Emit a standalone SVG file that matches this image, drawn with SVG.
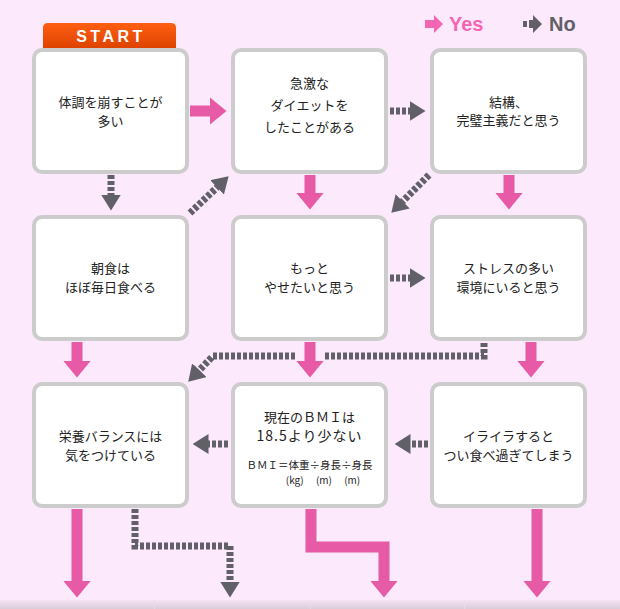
<svg xmlns="http://www.w3.org/2000/svg" width="620" height="609" viewBox="0 0 620 609">
<defs>
<linearGradient id="tabg" x1="0" y1="0" x2="0" y2="1"><stop offset="0" stop-color="#ff5f12"/><stop offset="1" stop-color="#dd4300"/></linearGradient>
<linearGradient id="bandg" x1="0" y1="0" x2="0" y2="1"><stop offset="0" stop-color="#f6e2f4"/><stop offset="1" stop-color="#d9cdd9"/></linearGradient>
<marker id="ph" viewBox="0 0 17 28" markerWidth="17" markerHeight="28" refX="0.5" refY="14" orient="auto" markerUnits="userSpaceOnUse"><path d="M0,0 L17,14 L0,28 Z" fill="#e65aa6"/></marker>
<marker id="gh" viewBox="0 0 16 20" markerWidth="16" markerHeight="20" refX="0.5" refY="10" orient="auto" markerUnits="userSpaceOnUse"><path d="M0,0 L16,10 L0,20 Z" fill="#616068"/></marker>
</defs>
<style>
.box{fill:#fff;stroke:#cccccc;stroke-width:4}
.t{font-family:"Noto Sans CJK JP","Noto Sans",sans-serif;font-size:13px;fill:#222;text-anchor:middle}
.yes{fill:none;stroke:#e65aa6;stroke-width:11;stroke-linejoin:miter;marker-end:url(#ph)}
.no{fill:none;stroke:#616068;stroke-width:7;stroke-dasharray:4 2;marker-end:url(#gh)}
.nom{fill:none;stroke:#616068;stroke-width:7;stroke-dasharray:4 2}
</style>
<rect width="620" height="609" fill="#fce9fb"/>
<rect x="0" y="600" width="620" height="9" fill="url(#bandg)"/>
<g stroke="#e8dbe8" stroke-width="1"><line x1="154.5" y1="601" x2="154.5" y2="609"/><line x1="310.5" y1="601" x2="310.5" y2="609"/><line x1="464.5" y1="601" x2="464.5" y2="609"/></g>

<g id="legend">
<path d="M425,20 H434 V15 L443,24 L434,33 V28 H425 Z" fill="#f466b4"/>
<text x="449" y="31" font-family="Liberation Sans,Arial,sans-serif" font-weight="bold" font-size="20" fill="#f466b4">Yes</text>
<rect x="523" y="21" width="4" height="6" fill="#616068"/>
<path d="M529,20 H533 V15 L542,24 L533,33 V28 H529 Z" fill="#616068"/>
<text x="549" y="31" font-family="Liberation Sans,Arial,sans-serif" font-weight="bold" font-size="20" fill="#616068">No</text>
</g>

<g id="start">
<path d="M43,48 V28 Q43,23 48,23 H171 Q176,23 176,28 V48 Z" fill="url(#tabg)"/>
<text x="111" y="42" font-family="Liberation Sans,Arial,sans-serif" font-weight="bold" font-size="16" fill="#fff" text-anchor="middle" letter-spacing="3.5">START</text>
</g>

<g id="n1"><rect class="box" x="34" y="50" width="153" height="122" rx="8"/>
<text class="t" x="110.5" y="107">体調を崩すことが</text><text class="t" x="110.5" y="126">多い</text></g>
<g id="n2"><rect class="box" x="233" y="50" width="153" height="122" rx="8"/>
<text class="t" x="309.5" y="88">急激な</text><text class="t" x="309.5" y="110">ダイエットを</text><text class="t" x="309.5" y="132">したことがある</text></g>
<g id="n3"><rect class="box" x="432" y="50" width="153" height="122" rx="8"/>
<text class="t" x="508.5" y="107">結構、</text><text class="t" x="508.5" y="125">完璧主義だと思う</text></g>

<g id="n4"><rect class="box" x="34" y="217" width="153" height="122" rx="8"/>
<text class="t" x="110.5" y="273">朝食は</text><text class="t" x="110.5" y="292">ほぼ毎日食べる</text></g>
<g id="n5"><rect class="box" x="233" y="217" width="153" height="122" rx="8"/>
<text class="t" x="309.5" y="273">もっと</text><text class="t" x="309.5" y="292">やせたいと思う</text></g>
<g id="n6"><rect class="box" x="432" y="217" width="153" height="122" rx="8"/>
<text class="t" x="508.5" y="273">ストレスの多い</text><text class="t" x="508.5" y="292">環境にいると思う</text></g>

<g id="n7"><rect class="box" x="34" y="384" width="153" height="122" rx="8"/>
<text class="t" x="110.5" y="441">栄養バランスには</text><text class="t" x="110.5" y="460">気をつけている</text></g>
<g id="n8"><rect class="box" x="233" y="384" width="153" height="122" rx="8"/>
<text class="t" x="309.5" y="422">現在のＢＭＩは</text>
<text class="t" x="309.5" y="441" style="font-size:14px" letter-spacing="1">18.5より少ない</text>
<text class="t" x="309.5" y="469" style="font-size:10.5px">ＢＭＩ＝体重÷身長÷身長</text>
<text class="t" x="323" y="484" style="font-size:10px" xml:space="preserve">(kg)　 (m)　 (m)</text></g>
<g id="n9"><rect class="box" x="432" y="384" width="153" height="122" rx="8"/>
<text class="t" x="508.5" y="441">イライラすると</text><text class="t" x="508.5" y="460">つい食べ過ぎてしまう</text></g>

<g id="connectors">
<path class="yes" d="M190,111 H210"/>
<path class="no" d="M111,175 V195"/>
<path class="no" d="M190,213 L217.4,187"/>
<path class="no" d="M390,111 H410"/>
<path class="yes" d="M310,175 V193"/>
<path class="no" d="M429,175 L402.3,201.7"/>
<path class="yes" d="M509,175 V193"/>
<path class="no" d="M390,278 H410"/>
<path class="yes" d="M77,342 V361"/>
<path class="yes" d="M310,342 V361"/>
<path class="nom" d="M484,343 V356 H325"/>
<path class="no" d="M295,356 H213 L199,370.5"/>
<path class="yes" d="M531,342 V361"/>
<path class="no" d="M228,444 H208"/>
<path class="no" d="M428,444 H410"/>
<path class="yes" d="M77,509 V581"/>
<path class="no" d="M135,509 V546 H230 V582"/>
<path class="yes" d="M311,509 V547 H384 V581"/>
<path class="yes" d="M537,509 V581"/>
</g>
</svg>
